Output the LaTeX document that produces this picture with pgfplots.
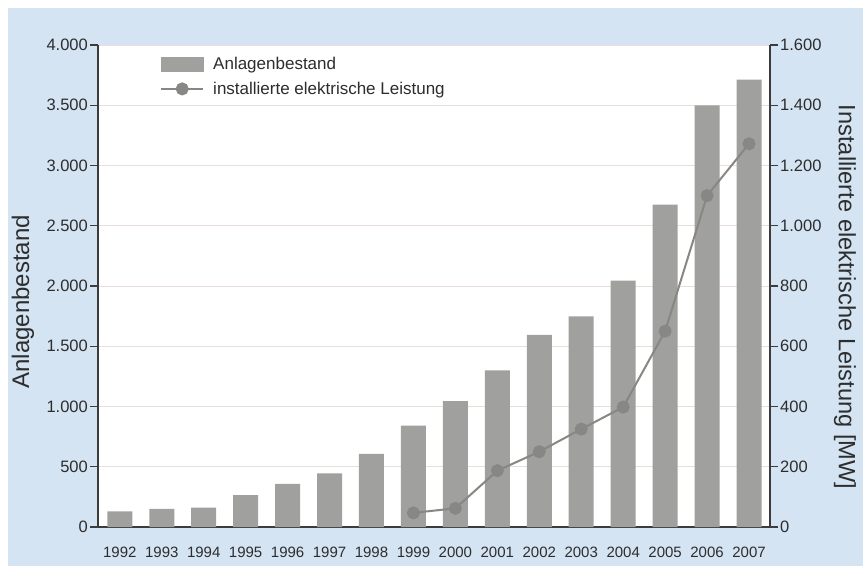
\documentclass[border=0pt]{standalone}
\usepackage{fontspec}
\setmainfont{Liberation Sans}
\usepackage{pgfplots}
\pgfplotsset{compat=1.18}
\definecolor{bg}{RGB}{212,228,243}
\definecolor{bargray}{RGB}{160,160,158}
\definecolor{linegray}{RGB}{138,134,131}
\definecolor{markgray}{RGB}{135,135,133}
\definecolor{axisgray}{RGB}{60,60,60}
\definecolor{txt}{RGB}{45,45,45}
\definecolor{gridc}{RGB}{232,222,220}
\pgfplotsset{
  common/.style={
    at={(98pt,39pt)}, anchor=south west,
    scale only axis, width=672pt, height=482pt,
    xmin=-0.52, xmax=15.5, ymin=0,
    axis line style={axisgray, line width=1.4pt, -},
    tick style={axisgray, line width=1.2pt},
    tick align=outside, major tick length=8pt,
    /pgf/number format/assume math mode=true,
    /pgf/number format/1000 sep={.},
    ticklabel style={text=txt, font=\fontsize{16.5}{18}\selectfont},
  }
}
\begin{document}
\begin{tikzpicture}[x=1pt,y=1pt]
\fill[bg] (8,0) rectangle (863,558);
\path[use as bounding box] (0,0) rectangle (863,566);
\begin{axis}[common,
  ymax=4000,
  axis background/.style={fill=white},
  axis x line*=bottom, axis y line*=left,
  ytick={0,500,...,4000},
  ymajorgrids, grid style={gridc, line width=1pt},
  xtick={0,...,15},
  xticklabels={1992,1993,1994,1995,1996,1997,1998,1999,2000,2001,2002,2003,2004,2005,2006,2007},
  x tick style={draw=none},
  xticklabel style={font=\fontsize{15}{17}\selectfont, inner sep=0pt, anchor=north, yshift=-12pt},
  yticklabel style={inner sep=0pt, anchor=east, xshift=-2pt},
  every axis y label/.style={at={(axis description cs:-0.1116,0.467)}, anchor=center, rotate=90, font=\fontsize{24}{28}\selectfont, text=txt},
  ylabel={Anlagenbestand},
]
\addplot[ybar, bar width=25pt, fill=bargray, draw=none] coordinates {
(0,130) (1,150) (2,160) (3,265) (4,357) (5,445) (6,607) (7,842) (8,1045)
(9,1300) (10,1595) (11,1748) (12,2045) (13,2675) (14,3500) (15,3712)};
\end{axis}
\begin{axis}[common,
  ymax=1600,
  axis x line=none, axis y line*=right,
  ytick={0,200,...,1600},
  yticklabel style={inner sep=0pt, anchor=west, xshift=2pt},
  every axis y label/.style={at={(axis description cs:1.1116,0.477)}, anchor=center, rotate=-90, font=\fontsize{23.6}{28}\selectfont, text=txt},
  ylabel={Installierte elektrische Leistung [MW]},
  legend style={at={(axis description cs:0.0923,0.9793)}, anchor=north west, draw=none, fill=none, inner sep=0pt, font=\fontsize{17}{20}\selectfont, text=txt, row sep=7pt, column sep=7pt},
  legend cell align=left,
]
\addlegendimage{legend image code/.code={\fill[bargray] (0pt,-7pt) rectangle (42pt,7pt);}}
\addlegendentry{Anlagenbestand}
\addplot[linegray, line width=2pt, mark=*, mark size=5.5pt, mark options={fill=markgray, draw=markgray},
  legend image code/.code={\draw[linegray, line width=2pt] (0pt,0pt) -- (42pt,0pt); \fill[markgray] (21pt,0pt) circle (5.5pt);}]
coordinates {(7,47) (8,62) (9,187) (10,250) (11,325) (12,398) (13,650) (14,1100) (15,1272)};
\addlegendentry{installierte elektrische Leistung}
\end{axis}
\end{tikzpicture}
\end{document}
